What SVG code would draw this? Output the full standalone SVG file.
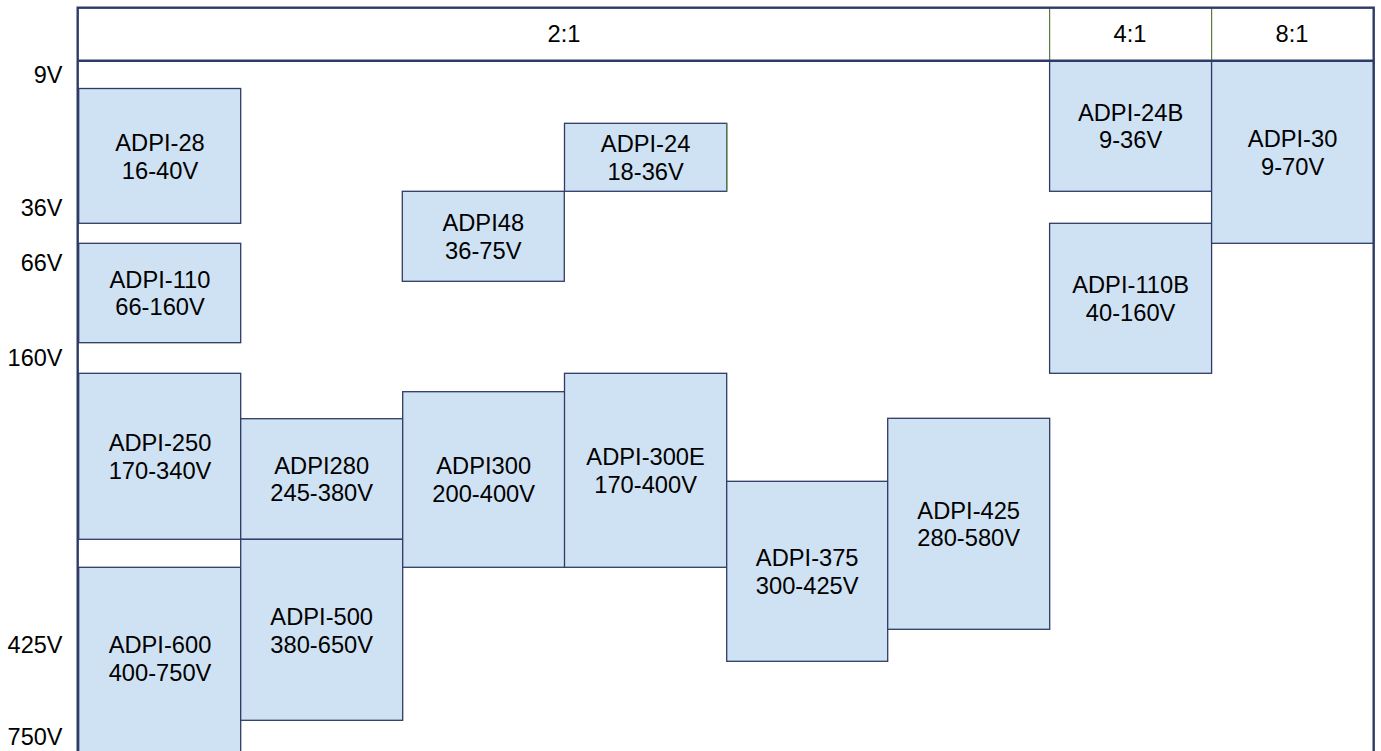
<svg xmlns="http://www.w3.org/2000/svg" width="1381" height="751" viewBox="0 0 1381 751">
<style>
.box{fill:#cfe2f3;stroke:#2e3b66;stroke-width:1.3}
.t{font-family:"Liberation Sans",Arial,sans-serif;font-size:23.7px;fill:#000;text-anchor:middle}
.ax{font-family:"Liberation Sans",Arial,sans-serif;font-size:23.5px;fill:#000;text-anchor:end}
.frame{fill:none;stroke:#2e3b66;stroke-width:2.4}
.div{stroke:#5b7d3c;stroke-width:1.2}
</style>
<rect x="0" y="0" width="1381" height="751" fill="#fff"/>
<g id="axis-labels">
<text class="ax" x="62.5" y="83">9V</text>
<text class="ax" x="62.5" y="216">36V</text>
<text class="ax" x="62.5" y="271">66V</text>
<text class="ax" x="62.5" y="366">160V</text>
<text class="ax" x="62.5" y="653">425V</text>
<text class="ax" x="62.5" y="745">750V</text>
</g>
<g id="header">
<text class="t" x="564" y="42">2:1</text>
<text class="t" x="1130" y="42">4:1</text>
<text class="t" x="1292" y="42">8:1</text>
</g>
<g id="ADPI-28"><rect class="box" x="78.7" y="88.5" width="162" height="134.8"/><text class="t" x="160" y="151">ADPI-28</text><text class="t" x="160" y="178.5">16-40V</text></g>
<g id="ADPI-110"><rect class="box" x="78.7" y="243.3" width="162" height="99.4"/><text class="t" x="160" y="287.5">ADPI-110</text><text class="t" x="160" y="315">66-160V</text></g>
<g id="ADPI-250"><rect class="box" x="78.7" y="373.3" width="162" height="166"/><text class="t" x="160" y="451">ADPI-250</text><text class="t" x="160" y="478.5">170-340V</text></g>
<g id="ADPI-600"><rect class="box" x="78.7" y="567.3" width="162" height="190"/><text class="t" x="160" y="653.3">ADPI-600</text><text class="t" x="160" y="680.8">400-750V</text></g>
<g id="ADPI280"><rect class="box" x="240.7" y="418.7" width="162" height="120.6"/><text class="t" x="321.7" y="473.7">ADPI280</text><text class="t" x="321.7" y="501.2">245-380V</text></g>
<g id="ADPI-500"><rect class="box" x="240.7" y="539.3" width="162" height="181"/><text class="t" x="321.7" y="625">ADPI-500</text><text class="t" x="321.7" y="652.5">380-650V</text></g>
<g id="ADPI48"><rect class="box" x="402.3" y="191.3" width="162" height="90"/><text class="t" x="483.3" y="231">ADPI48</text><text class="t" x="483.3" y="258.5">36-75V</text></g>
<g id="ADPI300"><rect class="box" x="402.7" y="391.7" width="162" height="175.6"/><text class="t" x="483.7" y="474">ADPI300</text><text class="t" x="483.7" y="501.5">200-400V</text></g>
<g id="ADPI-24"><rect class="box" x="564.5" y="123.3" width="162.2" height="68"/><line x1="726.7" y1="123.3" x2="726.7" y2="191.3" class="div"/><text class="t" x="645.6" y="152">ADPI-24</text><text class="t" x="645.6" y="179.5">18-36V</text></g>
<g id="ADPI-300E"><rect class="box" x="564.5" y="373.3" width="162.2" height="194"/><text class="t" x="645.6" y="465">ADPI-300E</text><text class="t" x="645.6" y="492.5">170-400V</text></g>
<g id="ADPI-375"><rect class="box" x="726.7" y="481.3" width="161" height="180"/><text class="t" x="807.2" y="566">ADPI-375</text><text class="t" x="807.2" y="593.5">300-425V</text></g>
<g id="ADPI-425"><rect class="box" x="887.7" y="418.3" width="162" height="211"/><text class="t" x="968.7" y="518.5">ADPI-425</text><text class="t" x="968.7" y="546">280-580V</text></g>
<g id="ADPI-24B"><rect class="box" x="1049.6" y="61" width="162" height="130.3"/><text class="t" x="1130.6" y="120.5">ADPI-24B</text><text class="t" x="1130.6" y="148">9-36V</text></g>
<g id="ADPI-110B"><rect class="box" x="1049.6" y="223.3" width="162" height="150"/><text class="t" x="1130.6" y="293">ADPI-110B</text><text class="t" x="1130.6" y="320.5">40-160V</text></g>
<g id="ADPI-30"><rect class="box" x="1211.6" y="61" width="162" height="182.3"/><text class="t" x="1292.6" y="147">ADPI-30</text><text class="t" x="1292.6" y="174.5">9-70V</text></g>
<g id="connectors">
<line class="div" x1="1049.6" y1="8" x2="1049.6" y2="61"/>
<line class="div" x1="1211.6" y1="8" x2="1211.6" y2="61"/>
<line class="frame" x1="77.7" y1="60.7" x2="1373.7" y2="60.7"/>
<rect class="frame" x="77.7" y="7.7" width="1296" height="760"/>
</g>
</svg>
